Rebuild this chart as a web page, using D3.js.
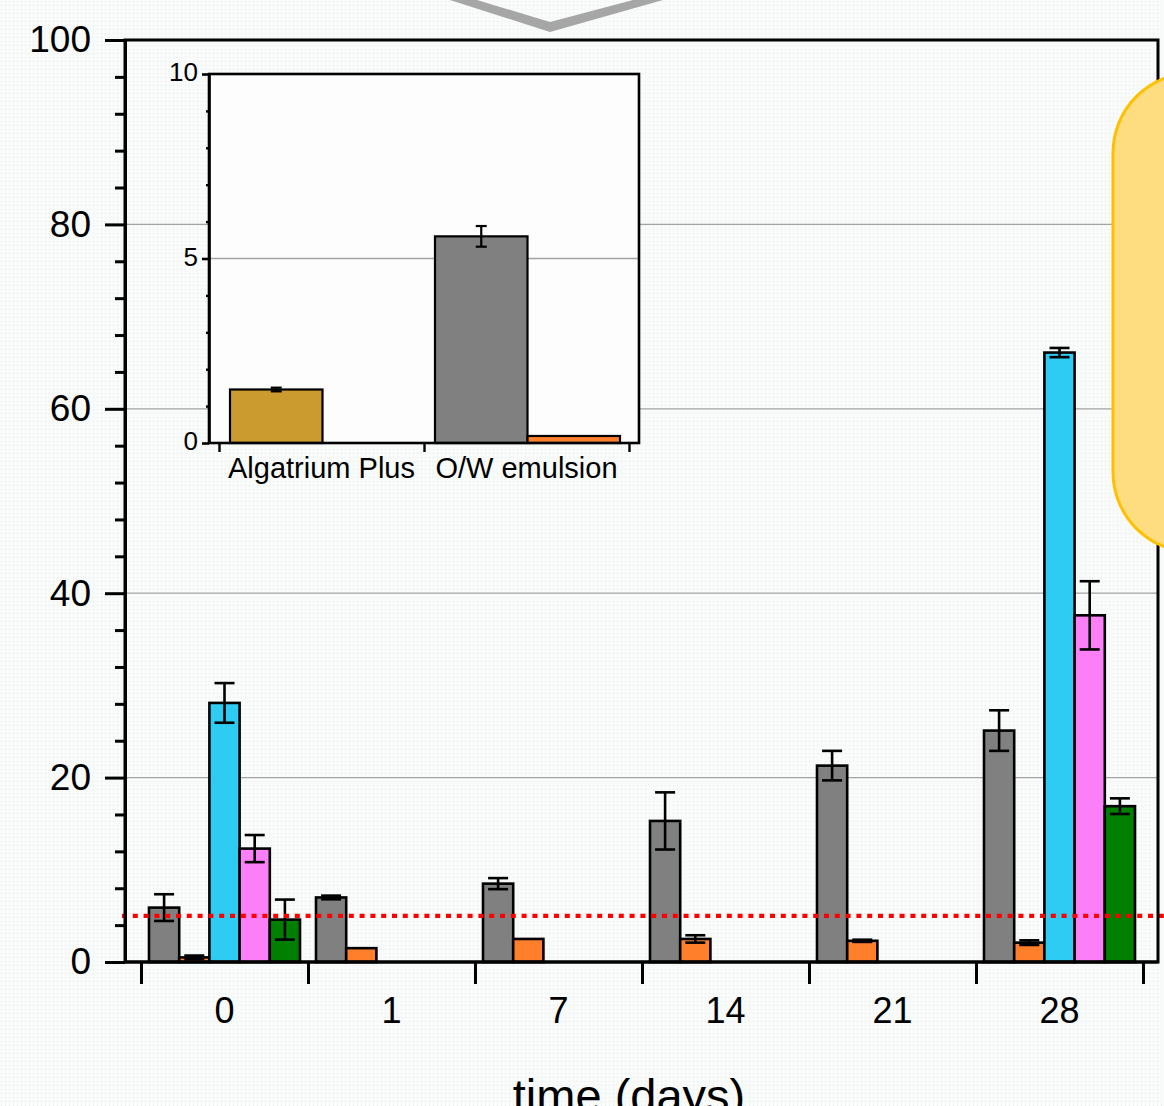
<!DOCTYPE html>
<html>
<head>
<meta charset="utf-8">
<script src="https://cdn.jsdelivr.net/npm/d3@7/dist/d3.min.js"></script>
<style>
  html, body { margin: 0; padding: 0; background: #f7f8f8; }
  svg { display: block; }
  text { font-family: "Liberation Sans", Arial, sans-serif; fill: #000; }
</style>
</head>
<body>
<svg id="chart" width="1164" height="1106"></svg>
<script>
// ---------------- DATA ----------------
const days = ["0", "1", "7", "14", "21", "28"];
const yTicks = [0, 20, 40, 60, 80, 100];

const grayVals   = [5.9, 7.0, 8.5, 15.3, 21.3, 25.1];
const grayErr    = [1.45, 0.2, 0.6, 3.1, 1.6, 2.2];
const orangeVals = [0.5, 1.5, 2.5, 2.5, 2.3, 2.1];
const orangeErr  = [0.2, 0, 0, 0.4, 0.12, 0.25];
const blueVals   = [28.1, null, null, null, null, 66.1];
const blueErr    = [2.15, 0, 0, 0, 0, 0.5];
const pinkVals   = [12.3, null, null, null, null, 37.6];
const pinkErr    = [1.47, 0, 0, 0, 0, 3.7];
const greenVals  = [4.6, null, null, null, null, 16.9];
const greenErr   = [2.17, 0, 0, 0, 0, 0.85];

const thresholdValue = 5;

const insetCats = ["Algatrium Plus", "O/W emulsion"];
const insetTicks = [0, 5, 10];
const insetGoldVals   = [1.45, null];
const insetGoldErr    = [0.05, 0];
const insetGrayVals   = [null, 5.6];
const insetGrayErr    = [0, 0.28];
const insetOrangeVals = [null, 0.19];
const insetOrangeErr  = [0, 0];

// ---------------- STYLE ----------------
const C = {
  gray: "#808080", orange: "#ff7f2a", blue: "#2ecbf2",
  pink: "#fb80f8", green: "#007f00", gold: "#cc9b2f",
  grid: "#a3a3a3"
};

const mainSeries = [
  { vals: grayVals,   err: grayErr,   color: C.gray,   slot: 0 },
  { vals: orangeVals, err: orangeErr, color: C.orange, slot: 1 },
  { vals: blueVals,   err: blueErr,   color: C.blue,   slot: 2 },
  { vals: pinkVals,   err: pinkErr,   color: C.pink,   slot: 3 },
  { vals: greenVals,  err: greenErr,  color: C.green,  slot: 4 }
];
const insetSeries = [
  { vals: insetGoldVals,   err: insetGoldErr,   color: C.gold,   slot: 0 },
  { vals: insetGrayVals,   err: insetGrayErr,   color: C.gray,   slot: 0 },
  { vals: insetOrangeVals, err: insetOrangeErr, color: C.orange, slot: 1 }
];

const svg = d3.select("#chart");

// background texture
const defs = svg.append("defs");
const pat = defs.append("pattern").attr("id", "dots").attr("width", 4).attr("height", 4)
  .attr("patternUnits", "userSpaceOnUse");
pat.append("rect").attr("width", 4).attr("height", 4).attr("fill", "#f9fafa");
pat.append("rect").attr("x", 1).attr("y", 1).attr("width", 1).attr("height", 1).attr("fill", "#e9ecec");
svg.append("rect").attr("width", 1164).attr("height", 1106).attr("fill", "url(#dots)");

// chevron at top (from surrounding diagram)
svg.append("path")
  .attr("d", "M450,0 L550,32 L663,0 L633,0 L550,22 L477,0 Z")
  .attr("fill", "#a6a6a6");

// ---------------- MAIN CHART ----------------
const L = 125, R = 1158, T = 40, B = 962;
const y = d3.scaleLinear().domain([0, 100]).range([B, T]);
const x = d3.scaleBand().domain(days).range([141, 1143]).padding(0);
const xSub = d3.scaleBand().domain(d3.range(5)).range([8, 8 + 151]).padding(0);
const xBound = d3.scaleLinear().domain([0, days.length]).range([141, 1143]);

// gridlines
svg.append("g").selectAll("line").data(yTicks.filter(t => t > 0 && t < 100)).join("line")
  .attr("x1", L).attr("x2", R).attr("y1", d => y(d)).attr("y2", d => y(d))
  .attr("stroke", C.grid).attr("stroke-width", 1.3);

// bars
function drawBars(g, series, xs, xsub, ys, cats, capW, sw) {
  series.forEach(s => {
    cats.forEach((c, i) => {
      const v = s.vals[i];
      if (v === null || v === undefined) return;
      const x0 = xs(c) + xsub(s.slot);
      const w = xsub.bandwidth();
      g.append("rect")
        .attr("x", x0).attr("y", ys(v))
        .attr("width", w).attr("height", ys(0) - ys(v))
        .attr("fill", s.color).attr("stroke", "#000").attr("stroke-width", sw);
      const e = s.err[i];
      if (e > 0) {
        const cx = x0 + w / 2;
        const eg = g.append("g").attr("stroke", "#000").attr("stroke-width", sw);
        eg.append("line").attr("x1", cx).attr("x2", cx).attr("y1", ys(v + e)).attr("y2", ys(v - e));
        eg.append("line").attr("x1", cx - capW / 2).attr("x2", cx + capW / 2).attr("y1", ys(v + e)).attr("y2", ys(v + e));
        eg.append("line").attr("x1", cx - capW / 2).attr("x2", cx + capW / 2).attr("y1", ys(v - e)).attr("y2", ys(v - e));
      }
    });
  });
}
drawBars(svg.append("g"), mainSeries, x, xSub, y, days, 20, 2.6);

// threshold dotted line
svg.append("line")
  .attr("x1", 122).attr("x2", 1164)
  .attr("y1", y(thresholdValue)).attr("y2", y(thresholdValue))
  .attr("stroke", "#ff0000").attr("stroke-width", 4.2).attr("stroke-dasharray", "5,5.8");

// frame
svg.append("rect").attr("x", L).attr("y", T).attr("width", R - L).attr("height", B - T)
  .attr("fill", "none").attr("stroke", "#000").attr("stroke-width", 3);

// y axis major
const yAxis = d3.axisLeft(y).tickValues(yTicks).tickSize(20).tickSizeOuter(0).tickPadding(14)
  .tickFormat(d3.format("d"));
const gy = svg.append("g").attr("transform", `translate(${L},0)`).call(yAxis);
gy.select(".domain").attr("stroke-width", 3);
gy.selectAll(".tick line").attr("stroke-width", 3);
gy.selectAll("text").style("font-size", "37px");

// y axis minor
const minorTicks = d3.range(0, 101, 4).filter(t => t % 20 !== 0);
const yMinor = d3.axisLeft(y).tickValues(minorTicks).tickSize(10).tickSizeOuter(0).tickFormat("");
const gym = svg.append("g").attr("transform", `translate(${L},0)`).call(yMinor);
gym.select(".domain").remove();
gym.selectAll(".tick line").attr("stroke-width", 3);

// x axis: boundary ticks
const xb = d3.axisBottom(xBound).tickValues(d3.range(days.length + 1)).tickSize(22).tickSizeOuter(0).tickFormat("");
const gxb = svg.append("g").attr("transform", `translate(0,${B})`).call(xb);
gxb.select(".domain").remove();
gxb.selectAll(".tick line").attr("stroke-width", 3);

// x axis labels
const xl = d3.axisBottom(x).tickSize(0).tickPadding(35).tickSizeOuter(0);
const gxl = svg.append("g").attr("transform", `translate(0,${B})`).call(xl);
gxl.select(".domain").remove();
gxl.selectAll("text").style("font-size", "36px");

// x axis line
svg.append("line").attr("x1", L).attr("x2", R).attr("y1", B).attr("y2", B)
  .attr("stroke", "#000").attr("stroke-width", 3);

// x title (cropped at the bottom edge, as in the source figure)
svg.append("text").attr("x", 629).attr("y", 1112).attr("text-anchor", "middle")
  .style("font-size", "47px").text("time (days)");

// ---------------- INSET ----------------
const iL = 209, iR = 639, iT = 74, iB = 443;
const iy = d3.scaleLinear().domain([0, 10]).range([iB, iT]);
const ix = d3.scaleBand().domain(insetCats).range([219, 629]).padding(0);
const ixSub = d3.scaleBand().domain([0, 1]).range([11, 11 + 185]).padding(0);
const ixBound = d3.scaleLinear().domain([0, insetCats.length]).range([219, 629]);

svg.append("rect").attr("x", iL).attr("y", iT).attr("width", iR - iL).attr("height", iB - iT)
  .attr("fill", "#fdfdfd");
svg.append("line").attr("x1", iL).attr("x2", iR).attr("y1", iy(5)).attr("y2", iy(5))
  .attr("stroke", C.grid).attr("stroke-width", 1.3);

drawBars(svg.append("g"), insetSeries, ix, ixSub, iy, insetCats, 11, 2.2);

svg.append("rect").attr("x", iL).attr("y", iT).attr("width", iR - iL).attr("height", iB - iT)
  .attr("fill", "none").attr("stroke", "#000").attr("stroke-width", 2.6);

const iyAxis = d3.axisLeft(iy).tickValues(insetTicks).tickSize(7).tickSizeOuter(0).tickPadding(4)
  .tickFormat(d3.format("d"));
const giy = svg.append("g").attr("transform", `translate(${iL},0)`).call(iyAxis);
giy.select(".domain").attr("stroke-width", 2.6);
giy.selectAll(".tick line").attr("stroke-width", 2.6);
giy.selectAll("text").style("font-size", "26px").attr("dy", "0.25em");

const iyMinor = d3.axisLeft(iy).tickValues(d3.range(1, 10).filter(t => t !== 5)).tickSize(3).tickSizeOuter(0).tickFormat("");
const giym = svg.append("g").attr("transform", `translate(${iL},0)`).call(iyMinor);
giym.select(".domain").remove();
giym.selectAll(".tick line").attr("stroke-width", 2.4);

const ixb = d3.axisBottom(ixBound).tickValues(d3.range(insetCats.length + 1)).tickSize(9).tickSizeOuter(0).tickFormat("");
const gixb = svg.append("g").attr("transform", `translate(0,${iB})`).call(ixb);
gixb.select(".domain").remove();
gixb.selectAll(".tick line").attr("stroke-width", 2.4);

const ixl = d3.axisBottom(ix).tickSize(0).tickPadding(14).tickSizeOuter(0);
const gixl = svg.append("g").attr("transform", `translate(0,${iB})`).call(ixl);
gixl.select(".domain").remove();
gixl.selectAll("text").style("font-size", "29px");

// ---------------- SIDE CALLOUT (from surrounding diagram) ----------------
svg.append("rect").attr("x", 1113).attr("y", 73).attr("width", 200).attr("height", 479)
  .attr("rx", 80).attr("ry", 80)
  .attr("fill", "#fedd80").attr("stroke", "#ffc000").attr("stroke-width", 3);
</script>
</body>
</html>
